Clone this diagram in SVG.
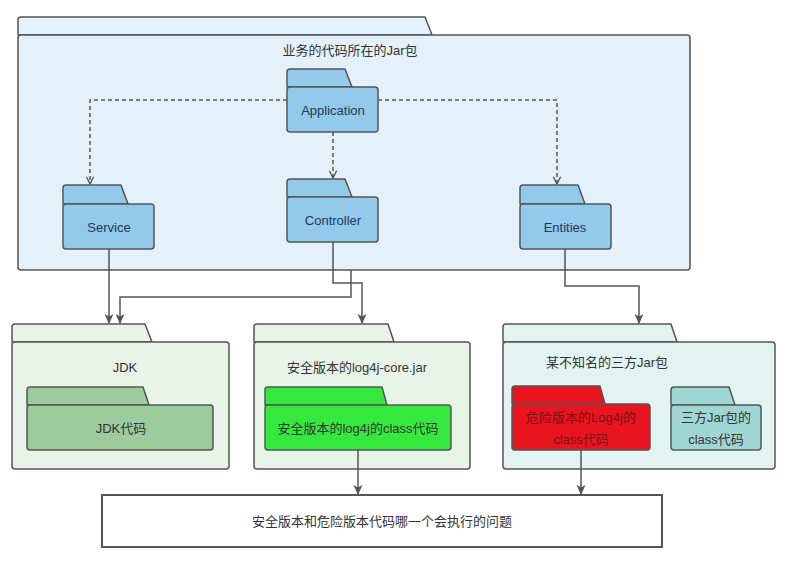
<svg xmlns="http://www.w3.org/2000/svg" width="787" height="566" viewBox="0 0 787 566">
<defs>
<style>
.f{stroke:#555555;stroke-width:1.5;stroke-linejoin:round}
.t{font-family:"Liberation Sans","Noto Sans CJK SC",sans-serif;font-size:13px;fill:#333;text-anchor:middle;dominant-baseline:central}
.tb{font-family:"Liberation Sans","Noto Sans CJK SC",sans-serif;font-size:13px;fill:#1e3a55;text-anchor:middle;dominant-baseline:central}
.big{fill:#e4f1fa}
.blue{fill:#93c9eb}
.lg{fill:#e8f4e7}
.dg{fill:#9ccb9e}
.gr{fill:#35e83d}
.lc{fill:#e2f3f2}
.red{fill:#e8141f}
.teal{fill:#9fd5d3}
.c{fill:none;stroke:#555555;stroke-width:1.5}
.d{stroke-dasharray:4 3}
</style>
<marker id="open" viewBox="0 0 10 10" refX="9" refY="5" markerWidth="9" markerHeight="9" orient="auto" markerUnits="userSpaceOnUse">
<path d="M1,1 L9,5 L1,9" fill="none" stroke="#555555" stroke-width="1.5"/>
</marker>
<marker id="solid" viewBox="0 0 10 10" refX="9" refY="5" markerWidth="10" markerHeight="10" orient="auto" markerUnits="userSpaceOnUse">
<path d="M0,0.5 L10,5 L0,9.5 L2.5,5 Z" fill="#555555"/>
</marker>
</defs>
<rect width="787" height="566" fill="#ffffff"/>

<g id="business-jar">
<path class="f big" d="M18,35 V20 Q18,17 21,17 H425 L432,35 Z"/>
<rect class="f big" x="18" y="35" width="672" height="235" rx="3"/>
<text class="t" x="350" y="50">业务的代码所在的Jar包</text>
</g>

<g id="application">
<path class="f blue" d="M287,87 V72 Q287,69 290,69 H345 L352,87 Z"/>
<rect class="f blue" x="287" y="87" width="91" height="45" rx="3"/>
<text class="tb" x="333" y="110">Application</text>
</g>

<g id="service">
<path class="f blue" d="M63,204 V188 Q63,185 66,185 H121 L128,204 Z"/>
<rect class="f blue" x="63" y="204" width="91" height="45" rx="3"/>
<text class="tb" x="109" y="227">Service</text>
</g>

<g id="controller">
<path class="f blue" d="M287,197 V182 Q287,179 290,179 H345 L352,197 Z"/>
<rect class="f blue" x="287" y="197" width="91" height="45" rx="3"/>
<text class="tb" x="333" y="220">Controller</text>
</g>

<g id="entities">
<path class="f blue" d="M520,204 V188 Q520,185 523,185 H578 L585,204 Z"/>
<rect class="f blue" x="520" y="204" width="91" height="45" rx="3"/>
<text class="tb" x="565" y="227">Entities</text>
</g>

<g id="jdk">
<path class="f lg" d="M12,342 V327 Q12,324 15,324 H145 L152,342 Z"/>
<rect class="f lg" x="12" y="342" width="217" height="127" rx="3"/>
<text class="t" x="125" y="367">JDK</text>
</g>

<g id="jdk-code">
<path class="f dg" d="M27,405 V390 Q27,387 30,387 H143 L149,405 Z"/>
<rect class="f dg" x="27" y="405" width="186" height="45" rx="3"/>
<text class="t" x="121" y="428">JDK代码</text>
</g>

<g id="log4j-core">
<path class="f lg" d="M254,342 V327 Q254,324 257,324 H388 L394,342 Z"/>
<rect class="f lg" x="254" y="342" width="216" height="127" rx="3"/>
<text class="t" x="357" y="367">安全版本的log4j-core.jar</text>
</g>

<g id="safe-log4j">
<path class="f gr" d="M265,405 V390 Q265,387 268,387 H382 L387,405 Z"/>
<rect class="f gr" x="265" y="405" width="186" height="45" rx="3"/>
<text class="t" x="358" y="428">安全版本的log4j的class代码</text>
</g>

<g id="third-party-jar">
<path class="f lc" d="M503,342 V327 Q503,324 506,324 H671 L677,342 Z"/>
<rect class="f lc" x="503" y="342" width="272" height="127" rx="3"/>
<text class="t" x="607" y="362">某不知名的三方Jar包</text>
</g>

<g id="danger-log4j">
<path class="f red" d="M512,404 V389 Q512,386 515,386 H600 L605,404 Z"/>
<rect class="f red" x="512" y="404" width="138" height="46" rx="3"/>
<text class="t" x="581" y="417" style="fill:#7a1515">危险版本的Log4j的</text>
<text class="t" x="581" y="439" style="fill:#7a1515">class代码</text>
</g>

<g id="third-party-code">
<path class="f teal" d="M671,405 V390 Q671,387 674,387 H729 L735,405 Z"/>
<rect class="f teal" x="671" y="405" width="90" height="45" rx="3"/>
<text class="t" x="716" y="417">三方Jar包的</text>
<text class="t" x="716" y="439">class代码</text>
</g>

<g id="question">
<rect x="102" y="495" width="560" height="52" fill="#ffffff" stroke="#555555" stroke-width="2"/>
<text class="t" x="382" y="521">安全版本和危险版本代码哪一个会执行的问题</text>
</g>

<g id="connectors">
<path class="c d" d="M287,100 H90 V184" marker-end="url(#open)"/>
<path class="c d" d="M378,100 H557 V184" marker-end="url(#open)"/>
<path class="c d" d="M333,132 V178" marker-end="url(#open)"/>
<path class="c" d="M109,249 V323" marker-end="url(#solid)"/>
<path class="c" d="M333,242 V283 H362 V323" marker-end="url(#solid)"/>
<path class="c" d="M351,270 V297 H120 V323" marker-end="url(#solid)"/>
<path class="c" d="M565,249 V286 H639 V323" marker-end="url(#solid)"/>
<path class="c" d="M358,450 V494" marker-end="url(#solid)"/>
<path class="c" d="M581,450 V494" marker-end="url(#solid)"/>
</g>
</svg>
